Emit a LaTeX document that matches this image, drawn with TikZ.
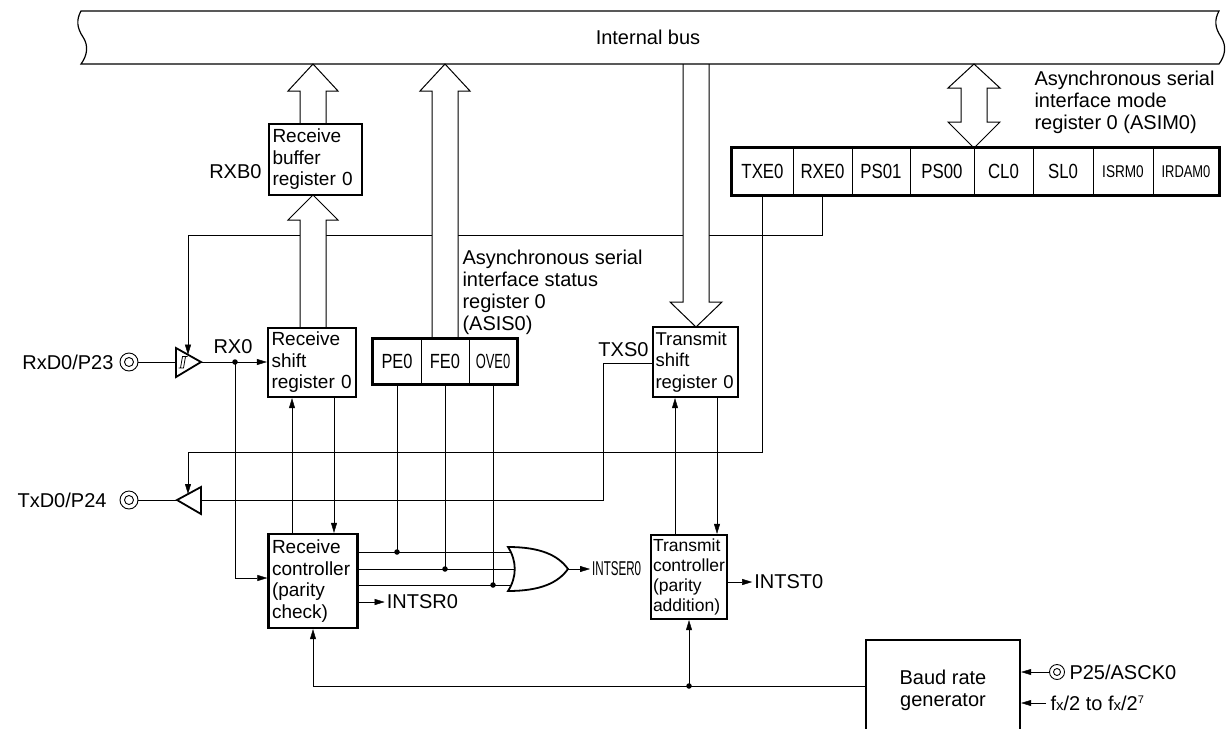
\documentclass[tikz,border=0pt]{standalone}
\usepackage{fontspec}
\setmainfont{Liberation Sans}
\usepackage{graphicx}
\usetikzlibrary{arrows.meta,calc}
\pgfdeclarelayer{bg}
\pgfdeclarelayer{mid}
\pgfsetlayers{bg,mid,main}
\newcommand\Lfont{\fontsize{20}{22}\selectfont}
\newcommand\Bfont{\fontsize{19}{21.5}\selectfont}
\newcommand\Rfont{\fontsize{18.5}{21.5}\selectfont}
\newcommand\Tfont{\fontsize{17.5}{20}\selectfont}
\newcommand\Cfont{\fontsize{20.5}{22}\selectfont}
\newcommand\Sfont{\fontsize{17}{18}\selectfont}
\newcommand\cond[2]{\scalebox{#1}[1]{#2}}
\begin{document}
\begin{tikzpicture}[x=1pt,y=-1pt,line width=1pt,
  every node/.style={inner sep=0pt},
  box/.style={draw,line width=2.3pt,fill=white,inner xsep=4pt,inner ysep=0pt,align=left,font=\Bfont},
  cell/.style={draw,line width=0.8pt,inner sep=0pt,font=\Cfont},
  lab/.style={font=\Lfont,inner sep=0pt},
  arr/.style={-{Triangle[length=10pt,width=6pt]}},
  hollow/.style={draw,fill=white,line width=1pt,line join=miter},
  pin/.style={circle,draw,minimum size=18pt,line width=0.9pt,
    path picture={\draw[line width=0.9pt] (path picture bounding box.center) circle (4.5pt);}},
  spin/.style={circle,draw,minimum size=15pt,line width=0.9pt,
    path picture={\draw[line width=0.9pt] (path picture bounding box.center) circle (3.5pt);}},
  dot/.style={circle,fill,minimum size=5.5pt,inner sep=0pt}]
\useasboundingbox (0,0) rectangle (1230,728);

% ---------- boxes ----------
\node[box,inner xsep=3.5pt,text width=86pt,minimum height=71pt] (rxb) at (315.5,159.5) {Receive\\buffer\\register 0};
\node[box,inner xsep=3.5pt,text width=81pt,minimum height=69pt] (rsr) at (312,362.5) {Receive\\shift\\register 0};
\node[box,inner xsep=3.5pt,text width=82pt,minimum height=94pt] (rc) at (313,581) {Receive\\controller\\(parity\\check)};
\node[box,inner xsep=2.5pt,text width=80pt,minimum height=70pt,font=\Rfont] (tsr) at (695.5,362) {Transmit\\shift\\register 0};
\node[box,inner xsep=2pt,text width=72pt,minimum height=84pt,font=\Tfont] (tc) at (689,577) {Transmit\\controller\\(parity\\addition)};
\node[box,minimum width=154pt,minimum height=100pt,align=center,font=\Lfont] (baud) at (943,690) {Baud rate\\generator};

% ---------- ASIM0 register ----------
\node[cell,minimum width=61pt,minimum height=47pt] (txe) at (762.5,171.5) {\cond{0.82}{TXE0}};
\node[cell,minimum width=59pt,minimum height=47pt] (rxe) at (822.5,171.5) {\cond{0.82}{RXE0}};
\node[cell,minimum width=58pt,minimum height=47pt] (ps1) at (881,171.5) {\cond{0.82}{PS01}};
\node[cell,minimum width=64pt,minimum height=47pt] (ps0) at (942,171.5) {\cond{0.82}{PS00}};
\node[cell,minimum width=59pt,minimum height=47pt] (cl) at (1003.5,171.5) {\cond{0.82}{CL0}};
\node[cell,minimum width=60pt,minimum height=47pt] (sl) at (1063,171.5) {\cond{0.82}{SL0}};
\node[cell,minimum width=60pt,minimum height=47pt,font=\Sfont] (isrm) at (1123,171.5) {\cond{0.8}{ISRM0}};
\node[cell,minimum width=66pt,minimum height=47pt,font=\Sfont] (irdam) at (1186,171.5) {\cond{0.76}{IRDAM0}};
\draw[line width=2.3pt] (txe.north west) rectangle (irdam.south east);

% ---------- ASIS0 register ----------
\node[cell,minimum width=48pt,minimum height=45pt] (pe) at (397,361.5) {\cond{0.8}{PE0}};
\node[cell,minimum width=48pt,minimum height=45pt] (fe) at (445,361.5) {\cond{0.8}{FE0}};
\node[cell,minimum width=48pt,minimum height=45pt] (ove) at (493,361.5) {\cond{0.63}{OVE0}};
\draw[line width=2.3pt] (pe.north west) rectangle (ove.south east);

% ---------- labels ----------
\node[lab] (buslab) at (648,37) {Internal bus};
\node[lab,anchor=east] (rxblab) at (262,172) {RXB0};
\node[lab] (rx0lab) at (233,347) {RX0};
\node[lab,anchor=east] (txslab) at (649,350) {TXS0};
\node[lab,anchor=north west,align=left] (asislab) at (462,250) {Asynchronous serial\\interface status\\register 0\\(ASIS0)};
\node[lab,anchor=north west,align=left] (asimlab) at (1034,71) {Asynchronous serial\\interface mode\\register 0 (ASIM0)};
\node[lab,anchor=east] (rxdlab) at (114,362) {RxD0/P23};
\node[lab,anchor=east] (txdlab) at (107,500) {TxD0/P24};
\node[pin] (rxdpin) at (129,362) {};
\node[pin] (txdpin) at (129,500) {};

% ---------- buffers ----------
\coordinate (sbin) at (176,362);
\coordinate (sbout) at (201,362);
\coordinate (sbtop) at (188,354.7);
\draw[line width=1.8pt,line join=miter,fill=white] (176,348) -- (201,362) -- (176,377) -- cycle;
\draw[line width=0.8pt] (178.5,368) -- (183.5,368) -- (185.5,356.5) (180.5,368) -- (182.5,356.5) -- (187.5,356.5);
\coordinate (tbtip) at (177,500);
\coordinate (tbout) at (201,500);
\coordinate (tbtop) at (188,494);
\draw[line width=1.8pt,line join=miter,fill=white] (201,487) -- (177,500) -- (201,514) -- cycle;

% ---------- OR gate ----------
\coordinate (ortip) at (568,569);
\draw[line width=1.8pt,fill=white] (508,547) .. controls (540,547) and (558,555) .. (ortip)
   .. controls (558,583) and (540,591) .. (508,591)
   .. controls (517,577) and (517,561) .. (508,547) -- cycle;

% ---------- dots and helper coordinates ----------
\node[dot] (d1) at (235,362) {};
\node[dot] (dpe) at (397,552) {};
\node[dot] (dfe) at (445,569) {};
\node[dot] (dove) at (493,585) {};
\node[dot] (db) at (689,686) {};
\coordinate (rxj) at (235,578);
\coordinate (xa) at (292,0);
\coordinate (xb) at (334,0);
\coordinate (xc) at (675,0);
\coordinate (xd) at (717,0);
\coordinate (o1) at (512,552);
\coordinate (o2) at (514,569);
\coordinate (o3) at (512,585);
\coordinate (yi) at (0,602);
\coordinate (yst) at (0,582);
\coordinate (yb) at (0,686);
\coordinate (c1) at (188,235);
\coordinate (c2) at (188,452);
\coordinate (c3) at (603,363);
\coordinate (asckt) at (1046,672);
\coordinate (fxt) at (1046,703);
\node[spin] (asckpin) at (1057,672) {};
\node[lab,anchor=west] (asck) at (1069,672) {P25/ASCK0};
\node[lab,anchor=west] (fx) at (1050,703) {f{\fontsize{15}{15}\selectfont x}/2 to f{\fontsize{15}{15}\selectfont x}/2\raisebox{7pt}{\fontsize{11}{11}\selectfont 7}};

% ---------- connectors ----------
\begin{pgfonlayer}{bg}
\draw (rxdpin.east) -- (sbin);
\draw[arr] (sbout) -- (rsr.west |- sbout);
\draw[arr] (d1.center) |- (rc.west |- rxj);
\draw[arr] (rc.north -| xa) -- (rsr.south -| xa);
\draw[arr] (rsr.south -| xb) -- (rc.north -| xb);
\draw (pe.south) -- (dpe.center);
\draw (fe.south) -- (dfe.center);
\draw (ove.south) -- (dove.center);
\draw (rc.east |- o1) -- (o1);
\draw (rc.east |- o2) -- (o2);
\draw (rc.east |- o3) -- (o3);
\draw[arr] (rc.east |- yi) -- ++(26,0) node[lab,anchor=west,xshift=2pt] (intsr) {INTSR0};
\draw[arr] (ortip) -- ++(22,0) node[lab,anchor=west,xshift=2pt] (intser) {\cond{0.58}{INTSER0}};
\draw[arr] (rxe.south) |- (c1) -- (sbtop);
\draw[arr] (txe.south) |- (c2) -- (tbtop);
\draw (tsr.west |- c3) -- (c3) |- (tbout);
\draw (txdpin.east) -- (tbtip);
\draw[arr] (tc.north -| xc) -- (tsr.south -| xc);
\draw[arr] (tsr.south -| xd) -- (tc.north -| xd);
\draw[arr] (tc.east |- yst) -- ++(24,0) node[lab,anchor=west,xshift=2pt] (intst) {INTST0};
\draw[arr] (baud.west |- yb) -| (rc.south);
\draw[arr] (db.center) -- (tc.south);
\draw[arr] (asckpin.west) -- (baud.east |- asckt);
\draw[arr] (fxt) -- (baud.east |- fxt);
\end{pgfonlayer}

% ---------- hollow bus arrows ----------
\begin{pgfonlayer}{mid}
\draw[hollow] (300,124) -- (300,91) -- (288,91) -- (313,64) -- (338,91) -- (326,91) -- (326,124);
\draw[hollow] (300,328) -- (300,220) -- (288,220) -- (313,195) -- (338,220) -- (326,220) -- (326,328);
\draw[hollow] (432,339) -- (432,91) -- (420,91) -- (445,64) -- (470,91) -- (458,91) -- (458,339);
\draw[hollow] (683,64) -- (683,302) -- (670,302) -- (696,327) -- (722,302) -- (709,302) -- (709,64);
\draw[hollow] (974,64) -- (1000,88) -- (987,88) -- (987,122) -- (1000,122) -- (974,148) -- (948,122) -- (961,122) -- (961,88) -- (948,88) -- cycle;
\end{pgfonlayer}

% ---------- internal bus ----------
\draw[line width=1.2pt] (81,11) -- (1219,11) .. controls (1214,20) and (1215,28) .. (1221,37)
  .. controls (1227,46) and (1225,56) .. (1219,64) -- (81,64)
  .. controls (87,56) and (89,46) .. (83,37) .. controls (77,28) and (76,20) .. (81,11) -- cycle;
\end{tikzpicture}
\end{document}
